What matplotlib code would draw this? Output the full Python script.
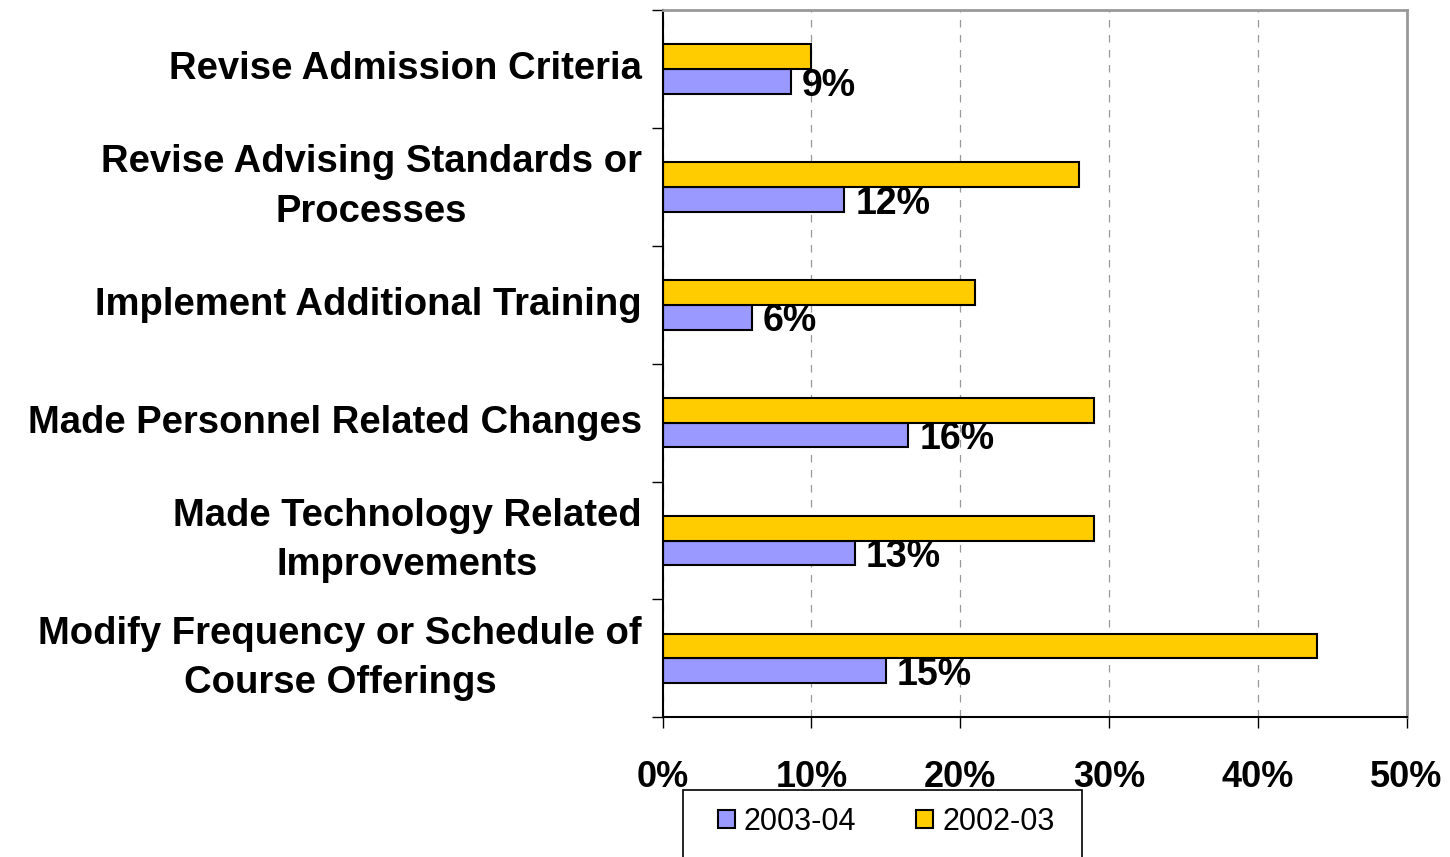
import numpy as np
import matplotlib.pyplot as plt
from matplotlib.patches import Rectangle

categories = ["Revise Admission Criteria",
              "Revise Advising Standards or\nProcesses",
              "Implement Additional Training",
              "Made Personnel Related Changes",
              "Made Technology Related\nImprovements",
              "Modify Frequency or Schedule of\nCourse Offerings"]
vals_0304 = [8.6, 12.2, 6.0, 16.5, 12.9, 15.0]
vals_0203 = [10.0, 28.0, 21.0, 29.0, 29.0, 44.0]
labels_0304 = ["9%", "12%", "6%", "16%", "13%", "15%"]

plt.rcParams['font.family'] = ['Liberation Sans', 'DejaVu Sans']

fig = plt.figure(figsize=(14.5, 8.57), dpi=100)
ax = fig.add_axes([0.457, 0.163, 0.513, 0.825])

y = np.arange(len(categories))
h = 0.21
ax.barh(y + h / 2, vals_0304, height=h, color="#9999ff", edgecolor="black", linewidth=1.5, label="2003-04")
ax.barh(y - h / 2, vals_0203, height=h, color="#ffcc00", edgecolor="black", linewidth=1.5, label="2002-03")

# value labels for 2003-04
for yi, v, lab in zip(y, vals_0304, labels_0304):
    ax.annotate(lab, (v, yi + h / 2), xytext=(8, -3), textcoords="offset points",
                ha="left", va="center", fontsize=27, fontweight="bold")

ax.set_ylim(len(categories) - 0.5, -0.5)
ax.set_xlim(0, 50)
ax.set_xticks(np.arange(0, 51, 10))
ax.set_xticklabels([f"{t}%" for t in range(0, 51, 10)], fontsize=26, fontweight="bold")
ax.tick_params(axis="x", length=8, pad=23, width=1)

ax.set_yticks(np.arange(-0.5, len(categories), 1))
ax.set_yticklabels([])
ax.tick_params(axis="y", length=8, width=1)
for yi, c in zip(y, categories):
    ax.text(-1.4, yi, c, ha="right", va="center", multialignment="center",
            fontsize=27.5, fontweight="bold", linespacing=1.48, transform=ax.transData)

ax.xaxis.grid(True, linestyle=(0, (6, 6)), color="#999999", linewidth=0.9)
ax.set_axisbelow(True)
for s in ["top", "right"]:
    ax.spines[s].set_color("#999999")
    ax.spines[s].set_linewidth(2)
for s in ["left", "bottom"]:
    ax.spines[s].set_linewidth(1.5)

# legend box drawn separately, entries inside without frame
fig.patches.append(Rectangle((683 / 1450, -0.01), 399 / 1450, 0.01 + 67 / 857,
                             transform=fig.transFigure, fill=False,
                             edgecolor="black", linewidth=1.2))
ax.legend(loc="center left", bbox_to_anchor=(718 / 1450, 1 - 822 / 857),
          bbox_transform=fig.transFigure, ncol=2, fontsize=22, frameon=False,
          handlelength=0.55, handleheight=0.55, columnspacing=1.95,
          borderpad=0, handletextpad=0.3, borderaxespad=0)

fig.savefig("out.png", dpi=100)
